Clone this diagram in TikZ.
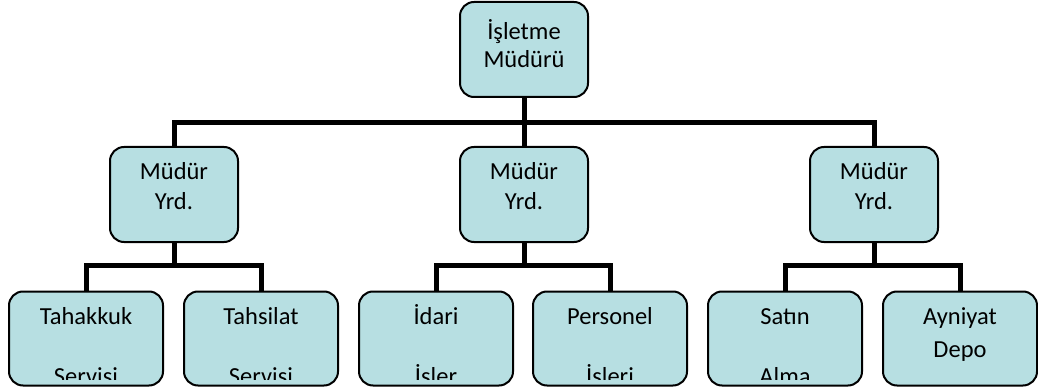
\documentclass[tikz,border=0pt]{standalone}
\usepackage{fontspec}
\setmainfont{Carlito}
\definecolor{boxfill}{HTML}{B7DFE2}
\tikzset{
  orgbox/.style={draw=black, line width=2pt, fill=boxfill, rounded corners=14pt, inner sep=0pt},
  conn/.style={draw=black, line width=5pt},
  lbl/.style={anchor=base, inner sep=0pt, font=\fontsize{24.5}{29}\selectfont, text=black},
}
\begin{document}
\begin{tikzpicture}[x=1pt,y=-1pt]
\useasboundingbox (0,0) rectangle (1038,390);
% boxes
\node[orgbox, minimum width=128pt, minimum height=95pt] (top) at (524,49.5) {};
\node[orgbox, minimum width=128pt, minimum height=95pt] (m1) at (174,194.5) {};
\node[orgbox, minimum width=128pt, minimum height=95pt] (m2) at (524,194.5) {};
\node[orgbox, minimum width=128pt, minimum height=95pt] (m3) at (874,194.5) {};
\node[orgbox, minimum width=154pt, minimum height=94pt] (b1) at (86,338.5) {};
\node[orgbox, minimum width=154pt, minimum height=94pt] (b2) at (261,338.5) {};
\node[orgbox, minimum width=154pt, minimum height=94pt] (b3) at (436,338.5) {};
\node[orgbox, minimum width=154pt, minimum height=94pt] (b4) at (610,338.5) {};
\node[orgbox, minimum width=154pt, minimum height=94pt] (b5) at (785,338.5) {};
\node[orgbox, minimum width=154pt, minimum height=94pt] (b6) at (960,338.5) {};
% junction coordinates
\coordinate (j0) at (524,123);
\coordinate (j1) at (174,265);
\coordinate (j2) at (524,265);
\coordinate (j3) at (874,265);
% connectors
\draw[conn] (top.south) -- (j0);
\draw[conn] (m1.north) |- (j0) -| (m3.north);
\draw[conn] (j0) -- (m2.north);
\draw[conn] (m1.south) -- (j1);
\draw[conn] (b1.north) |- (j1) -| (b2.north);
\draw[conn] (m2.south) -- (j2);
\draw[conn] (b3.north) |- (j2) -| (b4.north);
\draw[conn] (m3.south) -- (j3);
\draw[conn] (b5.north) |- (j3) -| (b6.north);
% texts
\node[lbl] (t0a) at (524,40) {İşletme};
\node[lbl] (t0b) at (524,68) {Müdürü};
\node[lbl] (t1a) at (174,179) {Müdür};
\node[lbl] (t1b) at (174,210) {Yrd.};
\node[lbl] (t2a) at (524,179) {Müdür};
\node[lbl] (t2b) at (524,210) {Yrd.};
\node[lbl] (t3a) at (874,179) {Müdür};
\node[lbl] (t3b) at (874,210) {Yrd.};
\node[lbl] (u1a) at (86,324) {Tahakkuk};
\node[lbl] (u2a) at (261,324) {Tahsilat};
\node[lbl] (u3a) at (436,324) {İdari};
\node[lbl] (u4a) at (610,324) {Personel};
\node[lbl] (u5a) at (785,324) {Satın};
\node[lbl] (u6a) at (960,324) {Ayniyat};
\node[lbl] (u6b) at (960,357) {Depo};
\begin{scope}
\clip (0,290) rectangle (1038,379.5);
\node[lbl] (u1b) at (86,384) {Servisi};
\node[lbl] (u2b) at (261,384) {Servisi};
\node[lbl] (u3b) at (436,384) {İşler};
\node[lbl] (u4b) at (610,384) {İşleri};
\node[lbl] (u5b) at (785,384) {Alma};
\end{scope}
\end{tikzpicture}
\end{document}
